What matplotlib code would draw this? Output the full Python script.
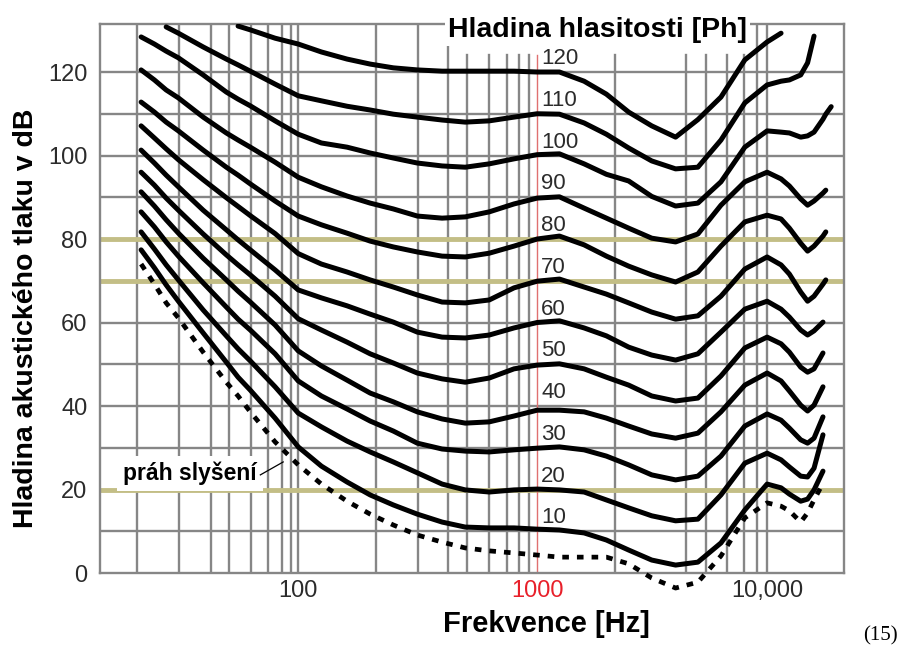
import numpy as np
import matplotlib
matplotlib.use("Agg")
import matplotlib.pyplot as plt
from matplotlib.ticker import NullLocator

plt.rcParams['font.family'] = ['Liberation Sans', 'DejaVu Sans']

n = np.nan

# frequency grid (Hz) shared by all curves
freq = [22, 25, 28, 31.5, 40, 50, 56, 63, 80, 100,
        125, 160, 200, 250, 315, 400, 500, 630, 800, 1000,
        1250, 1600, 2000, 2500, 3150, 4000, 5000, 6300, 8000, 10000,
        11500, 12500, 14000, 15000, 16000, 17500, 18000, 19000]

# sound pressure level (dB) of each equal-loudness contour
ph120 = [n, n, n, n, n, n, 131.0, 130.1, 128.1, 126.7,
         124.8, 123.1, 121.9, 121.0, 120.5, 120.2, 120.2, 120.2, 120.2, 120.0,
         120.0, 117.8, 114.7, 110.4, 107.1, 104.4, 108.6, 114.0, 122.9, 127.2,
         129.3, n, n, n, n, n, n, n]
ph110 = [n, n, 130.8, 129.3, 126.0, 123.1, 121.7, 120.2, 117.1, 114.3,
         113.1, 111.8, 110.9, 109.9, 109.2, 108.5, 108.0, 108.3, 109.2, 110.0,
         109.9, 107.8, 105.1, 101.8, 98.7, 96.8, 97.2, 103.7, 112.6, 116.9,
         117.8, 118.1, 119.3, 122.2, 128.6, n, n, n]
ph100 = [128.4, 126.7, 125.0, 123.4, 119.3, 115.2, 113.5, 111.9, 108.3, 105.1,
         103.0, 102.0, 100.6, 99.4, 98.2, 97.5, 97.2, 98.0, 99.2, 100.2,
         100.4, 98.0, 95.5, 93.9, 90.2, 87.9, 88.6, 93.7, 102.0, 105.9,
         105.6, 105.4, 104.4, 104.7, 105.6, 108.7, 109.9, 111.7]
ph90 = [120.5, 118.1, 115.7, 113.8, 109.2, 105.4, 103.7, 102.0, 98.4, 94.8,
        92.5, 90.3, 88.6, 87.2, 85.5, 85.0, 85.3, 86.5, 88.4, 89.8,
        90.1, 87.4, 85.0, 82.6, 80.2, 79.3, 81.2, 88.1, 93.7, 96.0,
        94.4, 92.7, 89.6, 88.1, 89.1, 91.0, 91.7, n]
ph80 = [112.8, 110.4, 108.0, 105.9, 101.3, 97.2, 95.3, 93.2, 89.1, 85.5,
        83.4, 81.4, 79.5, 78.1, 76.9, 75.9, 75.7, 76.6, 78.3, 80.0,
        80.7, 78.6, 75.9, 73.5, 71.4, 69.7, 72.1, 78.3, 84.1, 85.7,
        84.8, 82.6, 79.0, 77.1, 78.3, 80.7, 81.7, n]
ph70 = [107.1, 104.2, 101.6, 99.0, 94.2, 89.9, 87.8, 85.6, 81.3, 76.5,
        74.0, 72.1, 70.2, 68.5, 66.6, 64.9, 64.7, 65.4, 68.3, 69.9,
        70.4, 68.5, 66.8, 64.7, 62.5, 60.8, 61.6, 66.3, 72.8, 75.7,
        73.8, 71.6, 67.3, 65.1, 66.3, 69.2, 70.2, n]
ph60 = [101.3, 98.2, 95.3, 92.5, 86.9, 82.2, 79.8, 77.4, 72.6, 67.8,
        65.9, 64.0, 62.0, 60.1, 57.7, 56.5, 56.3, 57.0, 58.7, 60.0,
        60.4, 58.7, 56.8, 54.1, 52.2, 51.0, 52.5, 57.7, 63.2, 65.1,
        63.2, 61.3, 58.2, 57.0, 58.0, 60.1, n, n]
ph50 = [96.0, 92.9, 89.8, 86.9, 81.2, 76.2, 73.8, 71.4, 66.3, 60.9,
        58.2, 55.3, 52.5, 50.3, 47.9, 46.5, 45.7, 46.7, 48.9, 49.8,
        50.1, 48.9, 46.9, 45.0, 42.4, 41.2, 41.9, 47.2, 53.9, 56.5,
        54.9, 52.9, 49.3, 48.1, 48.9, 52.7, n, n]
ph40 = [91.3, 87.9, 84.6, 81.4, 75.4, 70.2, 67.5, 64.9, 59.4, 53.2,
        49.6, 46.2, 43.1, 41.0, 38.6, 36.9, 35.9, 36.2, 37.6, 39.0,
        39.0, 38.6, 37.1, 35.2, 33.3, 32.3, 33.5, 38.6, 45.0, 47.9,
        46.0, 43.6, 40.2, 38.8, 40.2, 44.6, n, n]
ph30 = [86.5, 82.9, 79.3, 75.9, 69.5, 63.7, 60.8, 58.2, 52.5, 46.0,
        42.4, 39.3, 36.4, 34.0, 31.1, 29.7, 29.2, 29.0, 29.5, 29.9,
        30.2, 29.5, 28.0, 25.9, 23.5, 22.3, 23.2, 28.0, 35.2, 38.1,
        36.6, 34.7, 31.9, 31.1, 32.3, 37.4, n, n]
ph20 = [81.7, 77.6, 73.8, 70.2, 63.0, 56.8, 53.7, 50.8, 44.6, 38.3,
        35.0, 31.6, 29.0, 26.6, 24.0, 21.3, 19.9, 19.4, 19.9, 20.1,
        19.9, 19.4, 17.5, 15.6, 13.7, 12.5, 12.9, 18.7, 26.3, 28.7,
        27.1, 25.4, 23.2, 23.0, 25.1, 33.1, n, n]
ph10 = [77.4, 73.1, 69.0, 65.1, 57.5, 50.5, 46.9, 43.8, 37.1, 30.2,
        25.6, 21.8, 18.7, 16.3, 14.1, 12.2, 11.0, 10.8, 10.8, 10.5,
        10.3, 9.6, 7.9, 5.5, 3.1, 1.9, 2.6, 7.2, 15.1, 21.3,
        20.4, 18.9, 17.2, 17.7, 19.9, 24.4, n, n]
threshold = [74.0, 69.2, 64.7, 61.1, 52.9, 45.7, 42.4, 38.6, 31.4, 25.9,
             21.3, 17.2, 14.1, 11.5, 9.1, 7.4, 6.0, 5.3, 4.8, 4.3,
             3.8, 3.8, 3.8, 2.2, -1.2, -3.6, -2.2, 4.1, 13.2, 16.8,
             16.0, 14.9, 12.2, 14.4, 17.5, 21.5, n, n]

phons = [120, 110, 100, 90, 80, 70, 60, 50, 40, 30, 20, 10]
curves = [ph120, ph110, ph100, ph90, ph80, ph70, ph60, ph50, ph40, ph30, ph20, ph10]

# vertical grid lines as drawn in the original (Hz)
grid_freq = [21.2, 31.8, 43.3, 51.4, 63.6, 74.9, 85.7, 93.5, 100,
             212, 318, 424, 509, 630, 749, 841, 926,
             2180, 4440, 5430, 6700, 7940, 9050, 10000]
grid_db = list(range(10, 130, 10))
olive_db = [20, 70, 80]

# the hand drawn log axis: decade widths are not all equal
dec_log = [1, 2, 3, 4, 5]
dec_pos = [0, 239, 478, 708, 938]


def fwd(f):
    f = np.clip(np.asarray(f, dtype=float), 1e-6, None)
    return np.interp(np.log10(f), dec_log, dec_pos)


def inv(p):
    return 10 ** np.interp(np.asarray(p, dtype=float), dec_pos, dec_log)


GRAY = '#868686'
OLIVE = '#c3be86'
TXT = '#2b2b2b'

fig = plt.figure(figsize=(8.99, 6.46), dpi=100)
ax = fig.add_axes([100 / 899, 1 - 573 / 646, 744 / 899, 549 / 646])
ax.set_xscale('function', functions=(fwd, inv))
ax.set_xlim(14.8, 21600)
ax.set_ylim(0, 131.5)

# grid
title_floor = 124.0 / 131.5
for f in grid_freq:
    top = title_floor if 440 < f < 9000 else 1
    ax.axvline(f, ymax=top, color=GRAY, lw=1.7, zorder=1)
ax.axvline(1000, ymax=title_floor, color='#e07070', lw=1.0, zorder=1.5)
for d in grid_db:
    if d in olive_db:
        ax.axhline(d, color=OLIVE, lw=3.5, zorder=1.2)
    else:
        ax.axhline(d, color=GRAY, lw=1.7, zorder=1)

for sp in ax.spines.values():
    sp.set_color(GRAY)
    sp.set_linewidth(1.7)

# curves
f = np.array(freq, dtype=float)
for ph, vals in zip(phons, curves):
    v = np.array(vals, dtype=float)
    ok = np.isfinite(v)
    ax.plot(f[ok], v[ok], color='black', lw=3.6, solid_capstyle='round',
            solid_joinstyle='round', zorder=3)
    ax.text(1040, ph + 3.2, str(ph), ha='left', va='center', fontsize=16,
            color=TXT, zorder=4)

t = np.array(threshold, dtype=float)
ok = np.isfinite(t)
ax.plot(f[ok], t[ok], color='black', lw=3.4, linestyle=(0, (1.4, 1.7)),
        zorder=3, clip_on=False)

# threshold annotation
ax.text(18.5, 22.3, 'práh slyšení', ha='left', va='baseline', fontsize=16.5,
        fontweight='bold', color='black', zorder=2.5,
        bbox=dict(boxstyle='square,pad=0.25', fc='white', ec='none'))
ax.plot([69.4, 86.5], [23.5, 26.6], color='black', lw=0.9, zorder=3)

# loudness title sitting on the top frame
ax.text(0.6687, 0.9763, 'Hladina hlasitosti [Ph]', transform=ax.transAxes,
        ha='center', va='baseline', fontsize=20.5, fontweight='bold',
        color='black', zorder=5,
        bbox=dict(boxstyle='square,pad=0.1', fc='white', ec='none'))

# ticks
ax.set_xticks([100, 1000, 10000])
ax.set_xticklabels(['100', '1000', '10,000'])
ax.xaxis.set_minor_locator(NullLocator())
ax.set_yticks(list(range(0, 121, 20)))
ax.yaxis.set_minor_locator(NullLocator())
ax.tick_params(axis='x', length=0, pad=5, labelsize=17, labelcolor=TXT)
ax.tick_params(axis='y', length=0, pad=9, labelsize=17, labelcolor=TXT)
ax.get_xticklabels()[1].set_color('#e8202a')

fig.text(546 / 899, 1 - 632 / 646, 'Frekvence [Hz]', ha='center', va='baseline',
         fontsize=21, fontweight='bold')
fig.text(26 / 899, 1 - 318 / 646, 'Hladina akustického tlaku v dB', rotation=90,
         ha='center', va='center', fontsize=20.5, fontweight='bold')
fig.text(898 / 899, 1 - 640 / 646, '(15)', ha='right', va='baseline',
         fontsize=15, family=['Liberation Serif', 'DejaVu Serif'])

fig.savefig('out.png', dpi=100, facecolor='white')
